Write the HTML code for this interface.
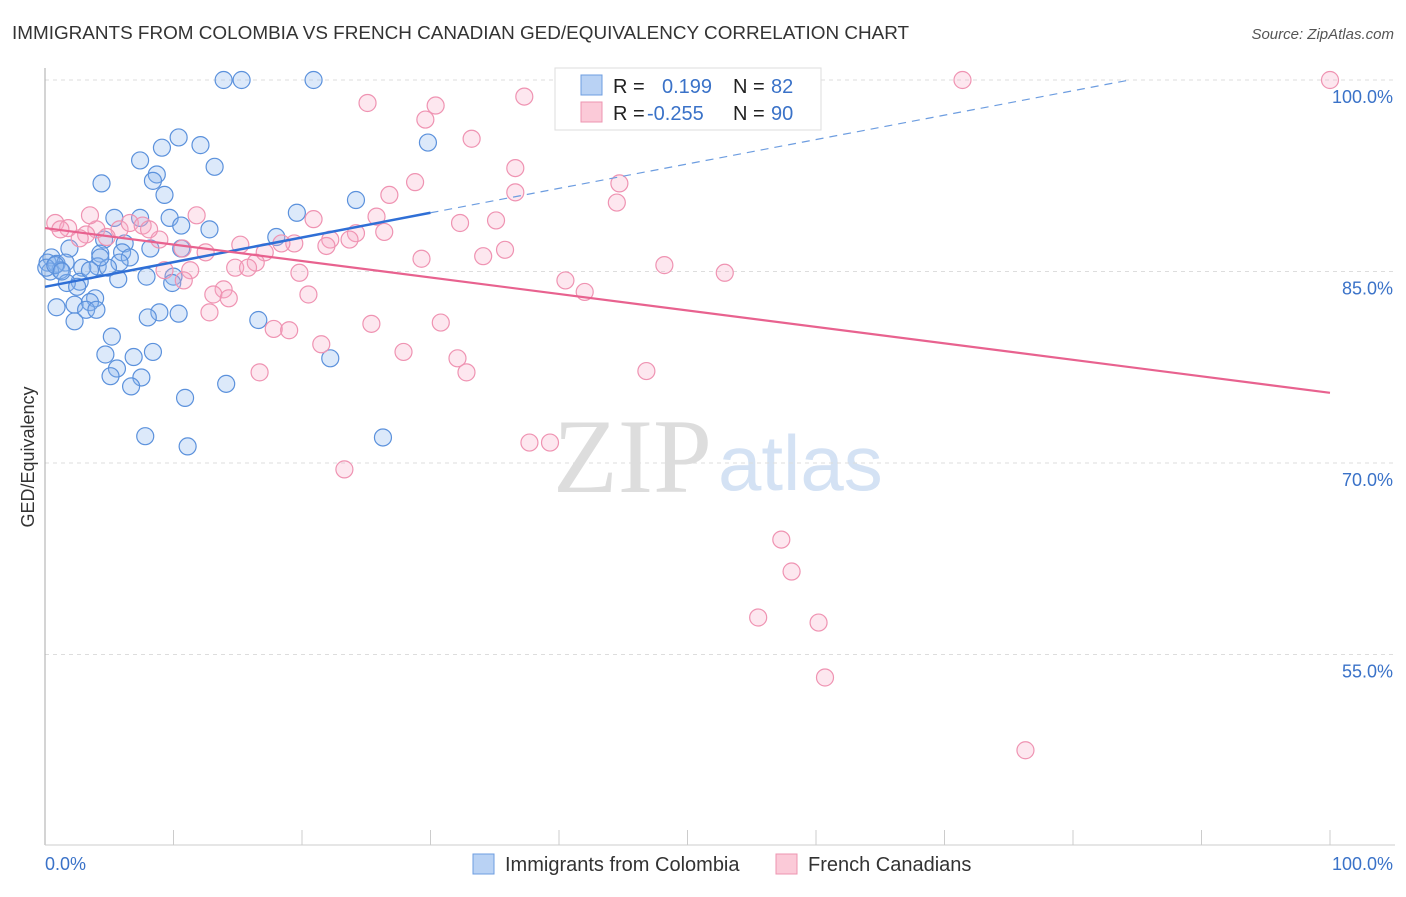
<!DOCTYPE html>
<html><head><meta charset="utf-8"><style>
body{margin:0;background:#fff;font-family:"Liberation Sans",sans-serif}
</style></head><body>
<svg width="1406" height="892" xmlns="http://www.w3.org/2000/svg">
<text x="12" y="39" font-size="18.9" fill="#333">IMMIGRANTS FROM COLOMBIA VS FRENCH CANADIAN GED/EQUIVALENCY CORRELATION CHART</text>
<text x="1394" y="39" font-size="15" fill="#555" font-style="italic" text-anchor="end">Source: ZipAtlas.com</text>
<text x="553" y="492" font-size="106" fill="#ddd" font-family="Liberation Serif">ZIP</text>
<text x="718" y="490" font-size="78" fill="#d4e2f4">atlas</text>
<g id="grid"></g>
<line x1="45" y1="68" x2="45" y2="845" stroke="#aaa"/>
<line x1="45" y1="845" x2="1395" y2="845" stroke="#ccc"/>
<text x="34" y="457" font-size="18" fill="#333" transform="rotate(-90 34 457)" text-anchor="middle">GED/Equivalency</text>
<text x="45" y="870" font-size="18" fill="#3a72c8">0.0%</text>
<text x="1393" y="870" font-size="18" fill="#3a72c8" text-anchor="end">100.0%</text>
<g id="pts"></g>
<g id="lines"></g>
<g>
<rect x="555" y="68" width="266" height="62" fill="#fff" stroke="#ddd"/>
<rect x="581" y="75" width="21" height="20" fill="#b9d2f4" stroke="#6d9de0"/>
<rect x="581" y="102" width="21" height="20" fill="#fbcad8" stroke="#ee94b0"/>
<text x="613" y="93" font-size="20" fill="#222">R = </text><text x="662" y="93" font-size="20" fill="#3a72c8">0.199</text>
<text x="733" y="93" font-size="20" fill="#222">N = </text><text x="771" y="93" font-size="20" fill="#3a72c8">82</text>
<text x="613" y="120" font-size="20" fill="#222">R = </text><text x="647" y="120" font-size="20" fill="#3a72c8">-0.255</text>
<text x="733" y="120" font-size="20" fill="#222">N = </text><text x="771" y="120" font-size="20" fill="#3a72c8">90</text>
</g>
<g>
<rect x="473" y="854" width="21" height="20" fill="#b9d2f4" stroke="#6d9de0"/>
<text x="505" y="871" font-size="20" fill="#333">Immigrants from Colombia</text>
<rect x="776" y="854" width="21" height="20" fill="#fbcad8" stroke="#ee94b0"/>
<text x="808" y="871" font-size="20" fill="#333">French Canadians</text>
</g>
</svg>
<script>
const yTicks=[100,85,70,55];
const yTickLabels=["100.0%","85.0%","70.0%","55.0%"];
const xTicks=[0,10,20,30,40,50,60,70,80,90,100];
const blueX=[13.9,15.3,20.9,29.8,10.4,12.1,9.1,7.4,13.2,8.7,8.4,4.4,9.3,19.6,24.2,5.4,7.4,9.7,10.6,12.8,18.0,4.6,6.2,8.2,10.6,1.9,6.0,4.3,6.6,5.8,0.5,0.2,0.9,1.6,4.1,2.9,1.2,0.4,4.9,7.9,10.0,5.7,9.9,2.7,1.7,2.5,3.9,0.9,2.3,3.5,3.2,4.0,2.3,8.9,10.4,8.0,16.6,5.2,8.4,4.7,6.9,22.2,5.6,5.1,7.5,6.7,14.1,10.9,7.8,11.1,26.3,0.1,0.8,1.3,3.5,4.3];
const blueY=[100,100,100,95.1,95.5,94.9,94.7,93.7,93.2,92.6,92.1,91.9,91.0,89.6,90.6,89.2,89.2,89.2,88.6,88.3,87.7,87.5,87.2,86.8,86.8,86.8,86.5,86.4,86.1,85.7,86.1,85.7,85.6,85.7,85.4,85.3,85.1,85.0,85.3,84.6,84.6,84.4,84.1,84.2,84.1,83.8,82.9,82.2,82.4,82.6,82.0,82.0,81.1,81.8,81.7,81.4,81.2,79.9,78.7,78.5,78.3,78.2,77.4,76.8,76.7,76.0,76.2,75.1,72.1,71.3,72.0,85.3,85.5,85.0,85.1,86.1];
const pinkX=[47.7,50.0,71.4,100,25.1,30.4,37.3,29.6,33.2,36.6,28.8,44.7,36.6,26.8,44.5,11.8,25.8,35.1,32.3,20.9,0.8,1.8,4.0,5.8,6.6,7.6,3.2,4.8,2.7,24.2,22.2,23.7,26.4,19.4,15.2,18.4,17.1,21.9,8.9,10.7,12.5,35.8,34.1,29.3,16.4,14.8,15.8,9.3,11.3,10.8,19.8,48.2,52.9,40.5,42.0,13.9,13.1,14.3,20.5,12.8,25.4,30.8,17.8,19.0,21.5,27.9,32.1,32.8,16.7,46.8,23.3,37.7,39.3,57.3,58.1,55.5,60.2,60.7,76.3,3.5,1.2,8.1];
const pinkY=[100,100,100,100,98.2,98.0,98.7,96.9,95.4,93.1,92.0,91.9,91.2,91.0,90.4,89.4,89.3,89.0,88.8,89.1,88.8,88.4,88.3,88.3,88.8,88.6,87.9,87.7,87.6,88.0,87.5,87.5,88.1,87.2,87.1,87.2,86.5,87.0,87.5,86.8,86.5,86.7,86.2,86.0,85.7,85.3,85.3,85.1,85.1,84.3,84.9,85.5,84.9,84.3,83.4,83.6,83.2,82.9,83.2,81.8,80.9,81.0,80.5,80.4,79.3,78.7,78.2,77.1,77.1,77.2,69.5,71.6,71.6,64.0,61.5,57.9,57.5,53.2,47.5,89.4,88.3,88.3];
const blueLine=[[0,83.8],[30,89.6]];
const blueDash=[[30,89.6],[84.4,100]];
const pinkLine=[[0,88.4],[100,75.5]];
const NS="http://www.w3.org/2000/svg";
const sx=v=>45+v*12.85;
const sy=v=>80+(100-v)*191.5/15;
function mk(t,a,p){const e=document.createElementNS(NS,t);for(const k in a)e.setAttribute(k,a[k]);p.appendChild(e);return e;}
const g=document.getElementById('grid');
yTicks.forEach((t,i)=>{
 const l=mk('line',{x1:45,x2:1395,y1:sy(t),y2:sy(t),stroke:'#ddd','stroke-dasharray':'4,4'},g);
 
 
 const tx=mk('text',{x:1393,y:sy(t)+23,'font-size':18,fill:'#3a72c8','text-anchor':'end'},g);
 tx.textContent=yTickLabels[i];
 
 
});
xTicks.forEach(t=>{
 const l=mk('line',{x1:sx(t),x2:sx(t),y1:830,y2:845,stroke:'#ccc'},g);
 
 
});
const p=document.getElementById('pts');
blueX.forEach((x,i)=>{
 const c=mk('circle',{cx:sx(x),cy:sy(blueY[i]),r:8.5,fill:'rgba(140,182,238,0.3)',stroke:'#5b91dc','stroke-width':1.2},p);
 
 
});
pinkX.forEach((x,i)=>{
 const c=mk('circle',{cx:sx(x),cy:sy(pinkY[i]),r:8.5,fill:'rgba(248,170,196,0.28)',stroke:'#ef93b2','stroke-width':1.2},p);
 
 
});
const L=document.getElementById('lines');
const b=mk('line',{x1:sx(blueLine[0][0]),y1:sy(blueLine[0][1]),x2:sx(blueLine[1][0]),y2:sy(blueLine[1][1]),stroke:'#2f6fd6','stroke-width':2.5},L);


const bd=mk('line',{x1:sx(blueDash[0][0]),y1:sy(blueDash[0][1]),x2:sx(blueDash[1][0]),y2:sy(blueDash[1][1]),stroke:'#6d9de0','stroke-width':1.2,'stroke-dasharray':'8,6'},L);


const pl=mk('line',{x1:sx(pinkLine[0][0]),y1:sy(pinkLine[0][1]),x2:sx(pinkLine[1][0]),y2:sy(pinkLine[1][1]),stroke:'#e8628f','stroke-width':2.2},L);


</script>
</body></html>
